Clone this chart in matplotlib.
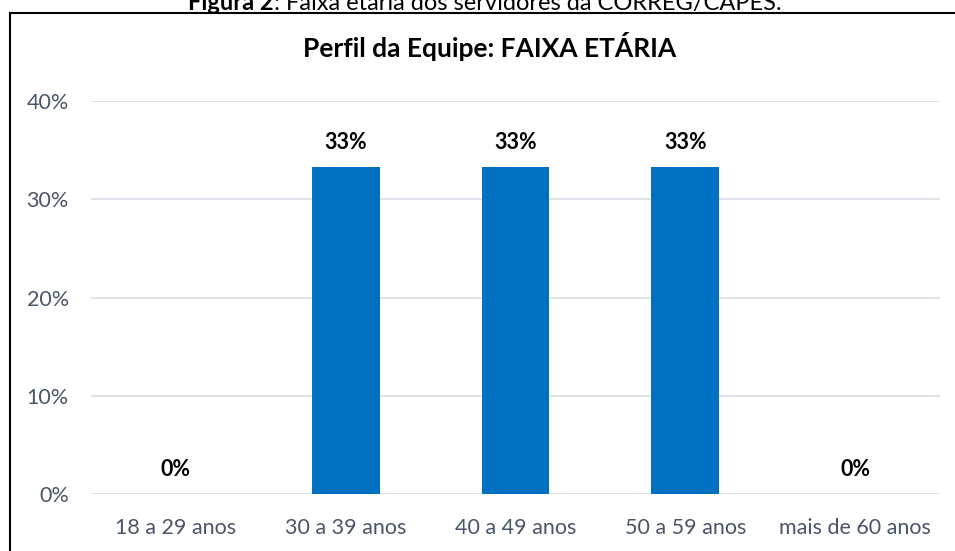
import matplotlib.pyplot as plt
from matplotlib.patches import Rectangle
from matplotlib.ticker import PercentFormatter

# data
categories = ["18 a 29 anos", "30 a 39 anos", "40 a 49 anos",
              "50 a 59 anos", "mais de 60 anos"]
values = [0.0, 1 / 3, 1 / 3, 1 / 3, 0.0]
labels = ["0%", "33%", "33%", "33%", "0%"]
yticks = [0, 0.1, 0.2, 0.3, 0.4]

plt.rcParams['font.family'] = ['Lato', 'DejaVu Sans']

W, H = 955, 551
fig = plt.figure(figsize=(W / 100, H / 100), dpi=100)
ax = fig.add_axes([91 / W, 1 - 494 / H, (940 - 91) / W, (494 - 101) / H])

x = range(len(categories))
ax.bar(x, values, width=0.40, color='#0070C0', zorder=3)

for xi, v, lab in zip(x, values, labels):
    ax.annotate(lab, (xi, v), xytext=(0, 17.5), textcoords='offset points',
                ha='center', va='center', fontsize=15.5, fontweight='bold',
                color='black')

ax.set_xlim(-0.5, len(categories) - 0.5)
ax.set_ylim(0, 0.4)
ax.set_yticks(yticks)
ax.yaxis.set_major_formatter(PercentFormatter(1.0, decimals=0))
ax.set_xticks(list(x))
ax.set_xticklabels(categories)

ax.grid(axis='y', color='#DCE1E8', linewidth=1.3, zorder=0)
for s in ax.spines.values():
    s.set_visible(False)
ax.tick_params(axis='both', length=0, labelsize=15.5, colors='#4A5568')
ax.tick_params(axis='y', pad=16)
ax.tick_params(axis='x', pad=17)

# chart title
fig.text(490 / W, 1 - 57 / H, "Perfil da Equipe: FAIXA ETÁRIA",
         fontsize=19, fontweight='bold', ha='center', va='baseline')

# chart border (cut at right / bottom in the source)
fig.add_artist(Rectangle((9.5 / W, -0.05), 1.1, 1 - 12.5 / H + 0.05,
                         transform=fig.transFigure, fill=False,
                         edgecolor='black', linewidth=1.5))

# figure caption, partially cut off at the top
t1 = fig.text(188 / W, 1 - 10 / H, "Figura 2", fontsize=17,
              fontweight='bold', va='baseline', ha='left')
ax.annotate(": Faixa etária dos servidores da CORREG/CAPES.", xy=(1, 0),
            xycoords=t1, va='bottom', ha='left', fontsize=17,
            annotation_clip=False)

fig.savefig("out.png", dpi=100)
